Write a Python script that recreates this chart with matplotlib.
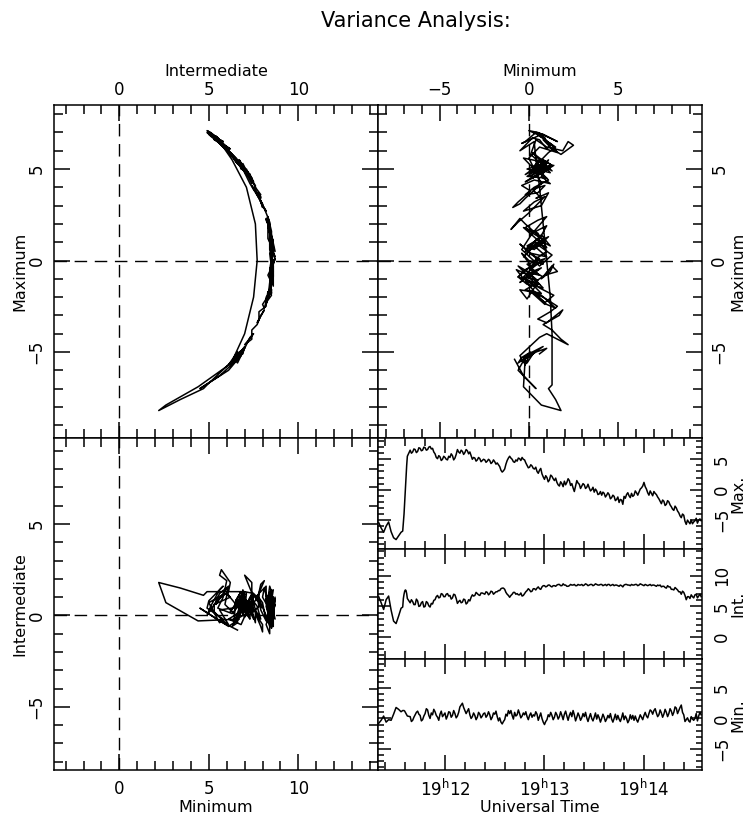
import numpy as np
import matplotlib
matplotlib.use('Agg')
import matplotlib.pyplot as plt
from matplotlib.ticker import MultipleLocator, FixedLocator, FixedFormatter

plt.rcParams['font.family'] = ['DejaVu Sans']
plt.rcParams['mathtext.default'] = 'regular'
plt.rcParams['axes.unicode_minus'] = True

# ---------------- data ----------------
# sample times, seconds after 19:11:00 UT
seconds = [20, 21.5, 23, 24.5, 26, 27.5, 29, 30.5, 32, 33.5,
           34.5, 34.9, 35.3, 35.7, 36.1, 36.5, 36.9, 37.3,
           39, 39.75, 40.5, 41.25, 42, 42.75, 43.5, 44.25, 45, 45.75,
           46.5, 47.25, 48, 48.75, 49.5, 50.25, 51, 51.75, 52.5, 53.25,
           54, 54.75, 55.5, 56.25, 57, 57.75, 58.5, 59.25, 60, 60.75,
           61.5, 62.25, 63, 63.75, 64.5, 65.25, 66, 66.75, 67.5, 68.25,
           69, 69.75, 70.5, 71.25, 72, 72.75, 73.5, 74.25, 75, 75.75,
           76.5, 77.25, 78, 78.75, 79.5, 80.25, 81, 81.75, 82.5, 83.25,
           84, 84.75, 85.5, 86.25, 87, 87.75, 88.5, 89.25, 90, 90.75,
           91.5, 92.25, 93, 93.75, 94.5, 95.25, 96, 96.75, 97.5, 98.25,
           99, 99.75, 100.5, 101.25, 102, 102.75, 103.5, 104.25, 105, 105.75,
           106.5, 107.25, 108, 108.75, 109.5, 110.25, 111, 111.75, 112.5, 113.25,
           114, 114.75, 115.5, 116.25, 117, 117.75, 118.5, 119.25, 120, 120.75,
           121.5, 122.25, 123, 123.75, 124.5, 125.25, 126, 126.75, 127.5, 128.25,
           129, 129.75, 130.5, 131.25, 132, 132.75, 133.5, 134.25, 135, 135.75,
           136.5, 137.25, 138, 138.75, 139.5, 140.25, 141, 141.75, 142.5, 143.25,
           144, 144.75, 145.5, 146.25, 147, 147.75, 148.5, 149.25, 150, 150.75,
           151.5, 152.25, 153, 153.75, 154.5, 155.25, 156, 156.75, 157.5, 158.25,
           159, 159.75, 160.5, 161.25, 162, 162.75, 163.5, 164.25, 165, 165.75,
           166.5, 167.25, 168, 168.75, 169.5, 170.25, 171, 171.75, 172.5, 173.25,
           174, 174.75, 175.5, 176.25, 177, 177.75, 178.5, 179.25, 180, 180.75,
           181.5, 182.25, 183, 183.75, 184.5, 185.25, 186, 186.75, 187.5, 188.25,
           189, 189.75, 190.5, 191.25, 192, 192.75, 193.5, 194.25, 195, 195.75,
           196.5, 197.25, 198, 198.75, 199.5, 200.25, 201, 201.75, 202.5, 203.25,
           204, 204.75, 205.5, 206.25, 207, 207.75, 208.5, 209.25, 210, 210.75,
           211.5, 212.25, 213, 213.75, 214.5]

b_max = [-5.4, -6.3, -7.0, -6.0, -5.3, -6.9, -7.9, -8.2, -7.6, -7.0,
         -6.8, -5.5, -4.0, -2.0, 0.0, 2.0, 4.0, 5.5,
         6.5, 6.0, 6.2, 6.7, 6.6, 6.1, 6.3, 6.9, 6.8, 6.4,
         6.5, 7.0, 6.9, 6.5, 6.6, 7.0, 7.1, 6.7, 6.8, 6.2,
         5.9, 5.3, 5.1, 5.6, 5.4, 4.8, 5.0, 5.5, 5.3, 5.0,
         4.9, 5.5, 5.3, 5.9, 5.6, 4.9, 5.2, 5.8, 6.6, 6.2,
         6.0, 6.5, 6.3, 5.8, 6.1, 6.6, 6.4, 5.9, 6.2, 5.6,
         5.0, 5.3, 5.2, 4.7, 4.9, 5.3, 5.1, 4.6, 4.8, 5.0,
         4.9, 4.5, 4.7, 5.0, 4.8, 4.3, 4.5, 4.9, 4.6, 4.2,
         4.4, 4.1, 3.8, 3.2, 2.9, 3.1, 3.4, 4.2, 4.8, 5.2,
         5.5, 5.2, 5.0, 4.6, 4.5, 4.9, 4.7, 5.2, 5.1, 4.8,
         5.3, 5.0, 4.9, 4.4, 4.0, 3.6, 3.7, 4.1, 3.9, 3.5,
         3.4, 3.7, 3.0, 2.7, 3.2, 3.5, 2.6, 2.1, 1.7, 2.3,
         2.0, 1.3, 1.6, 2.4, 2.2, 1.8, 1.5, 1.9, 1.2, 0.8,
         0.6, 1.3, 1.0, 0.5, 1.4, 0.8, 1.2, 1.8, 1.5, 0.7,
         1.0, 0.3, -0.3, 0.6, 1.5, 1.1, 0.9, 0.2, 0.6, 1.0,
         0.8, 0.2, 0.4, 0.9, 0.3, -0.2, 0.0, 0.4, -0.4, 0.1,
         -0.2, -0.8, -0.7, -0.3, -0.9, -0.4, -0.6, -1.2, -0.9, -0.5,
         -0.8, -1.5, -1.3, -0.9, -1.1, -1.8, -1.6, -1.2, -2.1, -1.6,
         -1.7, -2.4, -1.1, -1.4, -0.8, -0.5, -1.0, -1.3, -0.6, -1.1,
         -0.9, -0.2, -0.5, -0.9, -0.4, 0.1, 0.3, 0.6, 1.2, 0.5,
         0.1, -0.5, -0.9, -0.2, -0.6, -1.0, -0.3, -0.6, -0.8, -1.2,
         -1.5, -1.9, -2.3, -1.7, -1.9, -2.6, -2.4, -1.8, -2.0, -2.5,
         -2.8, -3.2, -3.4, -2.7, -3.0, -3.5, -3.8, -4.3, -4.6, -4.0,
         -4.2, -5.2, -5.7, -5.0, -5.3, -5.6, -5.0, -5.6, -5.3, -5.1,
         -4.7, -5.5, -5.0, -4.8, -5.1]

b_int = [6.6, 5.6, 4.5, 6.1, 6.7, 4.4, 2.6, 2.2, 3.4, 4.7,
         4.9, 6.3, 7.0, 7.5, 7.7, 7.6, 7.1, 6.3,
         5.6, 6.1, 5.8, 5.3, 5.3, 6.2, 5.9, 5.0, 5.1, 5.6,
         5.8, 4.9, 5.0, 5.8, 5.6, 5.1, 4.9, 5.5, 5.4, 6.0,
         6.1, 6.6, 6.8, 6.4, 6.5, 7.1, 7.0, 6.6, 6.6, 7.0,
         7.1, 6.7, 6.8, 6.2, 6.4, 7.0, 6.9, 6.3, 5.5, 5.8,
         6.0, 5.6, 5.7, 6.2, 6.1, 5.4, 5.6, 6.1, 5.9, 6.5,
         6.9, 6.7, 6.8, 7.3, 7.1, 6.9, 6.8, 7.2, 7.2, 7.1,
         7.0, 7.4, 7.3, 6.9, 7.1, 7.5, 7.4, 7.0, 7.2, 7.4,
         7.4, 7.6, 7.6, 7.9, 8.0, 8.0, 7.8, 7.3, 7.0, 6.8,
         6.5, 6.8, 7.0, 7.3, 7.3, 7.0, 7.1, 6.9, 6.9, 7.2,
         6.7, 6.8, 7.1, 7.4, 7.6, 7.9, 7.7, 7.4, 7.5, 7.9,
         7.9, 7.7, 8.0, 8.2, 7.9, 7.8, 8.2, 8.4, 8.4, 8.2,
         8.3, 8.5, 8.5, 8.3, 8.2, 8.4, 8.4, 8.3, 8.5, 8.6,
         8.6, 8.4, 8.4, 8.7, 8.5, 8.5, 8.3, 8.3, 8.4, 8.6,
         8.5, 8.5, 8.6, 8.4, 8.4, 8.6, 8.5, 8.5, 8.6, 8.4,
         8.5, 8.7, 8.6, 8.4, 8.5, 8.6, 8.6, 8.4, 8.5, 8.7,
         8.6, 8.5, 8.5, 8.6, 8.6, 8.4, 8.5, 8.6, 8.4, 8.6,
         8.6, 8.4, 8.5, 8.6, 8.4, 8.5, 8.5, 8.4, 8.3, 8.5,
         8.4, 8.2, 8.5, 8.6, 8.6, 8.5, 8.5, 8.4, 8.6, 8.5,
         8.5, 8.6, 8.6, 8.4, 8.5, 8.7, 8.6, 8.5, 8.4, 8.6,
         8.5, 8.4, 8.5, 8.6, 8.4, 8.5, 8.5, 8.4, 8.3, 8.5,
         8.4, 8.5, 8.2, 8.3, 8.3, 8.1, 8.0, 8.4, 8.2, 8.2,
         7.8, 7.8, 7.7, 8.1, 7.9, 7.7, 7.4, 7.4, 7.0, 7.5,
         7.3, 6.8, 6.1, 6.6, 6.6, 6.3, 6.9, 6.6, 6.4, 6.9,
         7.0, 6.4, 6.7, 7.0, 6.6]

b_min = [-0.8, -0.3, 0.4, -0.6, -0.2, -0.3, 0.7, 1.8, 1.5, 1.1,
         1.3, 1.3, 1.3, 1.2, 1.0, 0.8, 0.6, 0.4,
         0.3, -0.5, -0.3, 0.2, 0.6, 1.0, 1.2, 0.7, 0.5, -0.4,
         -0.2, 0.4, 0.8, 1.6, 1.4, 0.5, 0.0, 0.9, 0.6, 1.5,
         1.1, 0.5, 0.2, -0.3, 0.7, 1.2, 0.3, 0.6, 0.9, -0.1,
         0.4, 1.1, 1.0, 0.2, 0.5, 1.3, 0.8, 0.1, 0.4, 1.0,
         1.9, 2.2, 2.5, 1.8, 1.3, 0.8, 1.2, 1.6, 0.6, 0.0,
         0.3, 0.9, 0.5, -0.2, 0.2, 1.0, 0.7, 0.1, 0.4, 0.8,
         0.9, 0.2, 0.5, 1.1, 0.6, -0.2, 0.2, 0.9, 0.7, 1.2,
         0.3, -0.4, 0.1, -0.6, -0.9, -0.5, -0.2, 0.7, 0.4, 1.3,
         0.8, 1.3, 0.5, -0.1, 1.0, 0.4, 0.6, 1.4, 0.8, 0.1,
         0.4, 0.9, 0.6, 1.1, 0.3, -0.2, 0.5, 0.9, 0.2, 0.6,
         0.4, 1.1, 0.7, -0.3, 0.3, 0.9, 0.0, -0.6, -1.0, -0.5,
         -0.2, 0.6, 0.3, 1.0, 0.5, -0.2, 0.2, 1.0, 0.6, -0.1,
         0.3, 1.1, 0.5, -0.2, 0.7, 1.2, 0.4, -0.3, 0.5, 1.0,
         0.3, 1.3, 0.6, -0.4, 0.2, 0.9, 0.4, -0.3, 0.1, 0.8,
         0.3, 1.0, 0.1, -0.5, 0.2, 0.8, 0.0, -0.4, 0.2, 0.9,
         -0.1, 0.6, 0.1, -0.6, 0.0, 0.7, 0.2, -0.5, -0.1, 0.5,
         0.1, 0.8, -0.1, -0.6, 0.0, 0.7, -0.2, 0.5, -0.1, -0.5,
         0.1, 0.9, -0.2, 0.4, 0.0, -0.7, -0.3, 0.6, -0.1, 0.5,
         -0.3, 0.4, -0.2, -0.6, 0.0, 0.6, 0.2, -0.2, 0.5, 1.0,
         0.4, 0.1, 0.8, 1.4, 1.2, 0.7, 1.3, 1.6, 0.9, 0.3,
         0.6, 1.4, 0.9, 0.2, 0.7, 1.5, 1.0, 0.3, 0.8, 1.6,
         1.2, 0.5, 1.0, 1.9, 1.7, 0.8, 1.3, 1.8, 2.2, 1.0,
         0.6, -0.5, -0.2, 0.1, -0.4, -0.6, 0.3, -0.1, -0.3, 0.0,
         0.8, -0.4, 0.4, 1.0, 0.6]

# axis ranges (same width on every axis)
lim_int = (-3.65, 14.45)
lim_max = (-9.7, 8.5)
lim_min = (-8.45, 9.7)
time_lim = (19.6, 215.0)
time_ticks = [60, 120, 180]
time_labels = ['$19^{h}12$', '$19^{h}13$', '$19^{h}14$']

W, H = 747, 821
fig = plt.figure(figsize=(W / 100, H / 100), dpi=100)


def rect(x0, y0, x1, y1):
    return [x0 / W, 1 - y1 / H, (x1 - x0) / W, (y1 - y0) / H]


LW = 1.1
FS = 12
LFS = 11.5
DASH = (0, (9, 5.5))


def hodo_style(ax, xlim, ylim, xpad):
    ax.set_xlim(xlim)
    ax.set_ylim(ylim)
    for axis in (ax.xaxis, ax.yaxis):
        axis.set_major_locator(MultipleLocator(5))
        axis.set_minor_locator(MultipleLocator(1))
    ax.tick_params(which='both', direction='in', top=True, bottom=True,
                   left=True, right=True, width=1.1, labelsize=FS)
    ax.tick_params(axis='x', pad=xpad)
    ax.tick_params(axis='y', pad=6, labelrotation=90)
    ax.tick_params(which='major', length=11.5)
    ax.tick_params(which='minor', length=6.5)
    for s in ax.spines.values():
        s.set_linewidth(1.1)
    ax.axhline(0, color='k', lw=1.0, ls=DASH)
    ax.axvline(0, color='k', lw=1.0, ls=DASH)


def center_ylabels(ax):
    for t in ax.yaxis.get_major_ticks():
        t.label1.set_va('center')
        t.label2.set_va('center')


def center_label(lab, rot):
    lab.set_rotation(rot)
    lab.set_ha('center')
    lab.set_va('center')


# top-left: Intermediate vs Maximum
ax1 = fig.add_axes(rect(54, 105, 378, 438))
hodo_style(ax1, lim_int, lim_max, 4.5)
ax1.plot(b_int, b_max, color='k', lw=LW)
ax1.tick_params(labeltop=True, labelbottom=False, labelleft=True, labelright=False)
ax1.xaxis.set_label_position('top')
ax1.set_xlabel('Intermediate', fontsize=LFS)
ax1.set_ylabel('Maximum', fontsize=LFS)
ax1.xaxis.set_label_coords(0.5, 1 + 33 / 333)
ax1.yaxis.set_label_coords(-34 / 324, 0.5)
center_label(ax1.xaxis.label, 0)
center_label(ax1.yaxis.label, 90)
center_ylabels(ax1)

# top-right: Minimum vs Maximum
ax2 = fig.add_axes(rect(378, 105, 702, 438))
hodo_style(ax2, lim_min, lim_max, 4.5)
ax2.plot(b_min, b_max, color='k', lw=LW)
ax2.tick_params(labeltop=True, labelbottom=False, labelleft=False, labelright=True)
ax2.xaxis.set_label_position('top')
ax2.yaxis.set_label_position('right')
ax2.set_xlabel('Minimum', fontsize=LFS)
ax2.set_ylabel('Maximum', fontsize=LFS)
ax2.xaxis.set_label_coords(0.5, 1 + 33 / 333)
ax2.yaxis.set_label_coords(360 / 324, 0.5)
center_label(ax2.xaxis.label, 0)
center_label(ax2.yaxis.label, 90)
center_ylabels(ax2)

# bottom-left
ax3 = fig.add_axes(rect(54, 438, 378, 770))
hodo_style(ax3, lim_int, lim_min, 7)
ax3.plot(b_int, b_min, color='k', lw=LW)
ax3.tick_params(labeltop=False, labelbottom=True, labelleft=True, labelright=False)
ax3.set_xlabel('Minimum', fontsize=LFS)
ax3.set_ylabel('Intermediate', fontsize=LFS)
ax3.xaxis.set_label_coords(0.5, -37 / 332)
ax3.yaxis.set_label_coords(-34 / 324, 0.5)
center_label(ax3.xaxis.label, 0)
center_label(ax3.yaxis.label, 90)
center_ylabels(ax3)

# time series
ts_rows = [(438, 548.7, b_max, lim_max, 'Max.'),
           (548.7, 659.3, b_int, lim_int, 'Int.'),
           (659.3, 770, b_min, lim_min, 'Min.')]
for i, (y0, y1, series, ylim, name) in enumerate(ts_rows):
    ax = fig.add_axes(rect(378, y0, 702, y1))
    ax.plot(seconds, series, color='k', lw=LW)
    ax.set_xlim(time_lim)
    ax.set_ylim(ylim)
    ax.xaxis.set_major_locator(FixedLocator(time_ticks))
    ax.xaxis.set_major_formatter(FixedFormatter(time_labels))
    ax.xaxis.set_minor_locator(MultipleLocator(12))
    ax.yaxis.set_major_locator(MultipleLocator(5))
    ax.yaxis.set_minor_locator(MultipleLocator(1))
    ax.tick_params(which='both', direction='in', top=True, bottom=True,
                   left=True, right=True, width=1.1, labelsize=FS, pad=6)
    ax.tick_params(axis='x', which='major', length=11)
    ax.tick_params(axis='x', which='minor', length=6)
    ax.tick_params(axis='y', which='major', length=9)
    ax.tick_params(axis='y', which='minor', length=4)
    ax.tick_params(axis='y', labelrotation=90, labelleft=False, labelright=True,
                   pad=8)
    ax.tick_params(axis='x', labelbottom=(i == 2), labeltop=False)
    for s in ax.spines.values():
        s.set_linewidth(1.1)
    ax.yaxis.set_label_position('right')
    ax.set_ylabel(name, fontsize=LFS)
    ax.yaxis.set_label_coords(360 / 324, 0.5)
    center_label(ax.yaxis.label, 90)
    center_ylabels(ax)
    if i == 2:
        ax.set_xlabel('Universal Time', fontsize=LFS)
        ax.xaxis.set_label_coords(0.5, -37 / (770 - 659.3))
        center_label(ax.xaxis.label, 0)

fig.text(416 / W, 1 - 21 / H, 'Variance Analysis:', ha='center', va='center',
         fontsize=15)

fig.savefig('out.png', dpi=100)
